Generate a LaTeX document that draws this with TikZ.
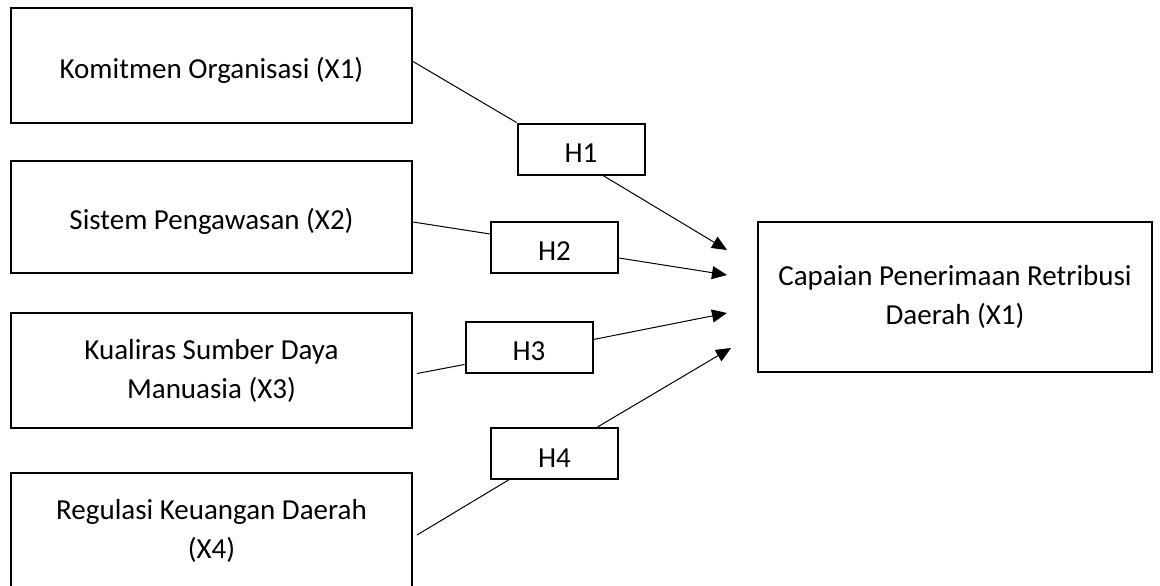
\documentclass[tikz,border=0pt]{standalone}
\usepackage{fontspec}
\setmainfont{Carlito}
\usetikzlibrary{arrows.meta}
\begin{document}
\begin{tikzpicture}[x=1pt,y=-1pt,font=\fontsize{29}{39}\selectfont,
  var/.style={draw,line width=2pt,minimum width=401pt,align=center,inner sep=0pt,
    execute at begin node={\rule{0pt}{30pt}}},
  hyp/.style={draw,line width=2pt,minimum width=127pt,minimum height=51pt,inner sep=0pt,
    execute at begin node={\rule{0pt}{27pt}}},
  link/.style={line width=1pt},
  arr/.style={line width=1pt,-{Triangle[length=15pt,width=13pt]}}]
\useasboundingbox (0,0) rectangle (1160,586);
\node[var,minimum height=115pt] (x1) at (211.5,65.5) {Komitmen Organisasi (X1)};
\node[var,minimum height=112pt] (x2) at (211.5,217) {Sistem Pengawasan (X2)};
\node[var,minimum height=115pt] (x3) at (211.5,370.5) {Kualiras Sumber Daya\\Manuasia (X3)};
\node[var,minimum height=116pt] (x4) at (211.5,531) {Regulasi Keuangan Daerah\\(X4)};
\node[var,minimum width=394pt,minimum height=150pt] (y) at (955,297) {Capaian Penerimaan Retribusi\\Daerah (X1)};
\node[hyp] (h1) at (581,149) {H1};
\node[hyp] (h2) at (554.5,247) {H2};
\node[hyp] (h3) at (529,347.5) {H3};
\node[hyp] (h4) at (554.5,453.5) {H4};
\coordinate (t1) at (727,250);
\coordinate (t2) at (727,275);
\coordinate (t3) at (727,313);
\coordinate (t4) at (731,348);
% X -> H
\draw[link] ([yshift=4pt]x1.east) -- (h1.north west);
\draw[link] ([yshift=-5pt]x2.east) -- ([yshift=13pt]h2.west);
\draw[link] ([xshift=4pt,yshift=-3pt]x3.east) -- ([yshift=-17pt]h3.west);
\draw[link] ([xshift=4pt,yshift=-4pt]x4.east) -- ([xshift=-46pt]h4.south);
% H -> Y
\draw[arr] ([xshift=22pt]h1.south) -- (t1);
\draw[arr] ([yshift=-11pt]h2.east) -- (t2);
\draw[arr] ([yshift=8pt]h3.east) -- (t3);
\draw[arr] ([xshift=43pt]h4.north) -- (t4);
\end{tikzpicture}
\end{document}
